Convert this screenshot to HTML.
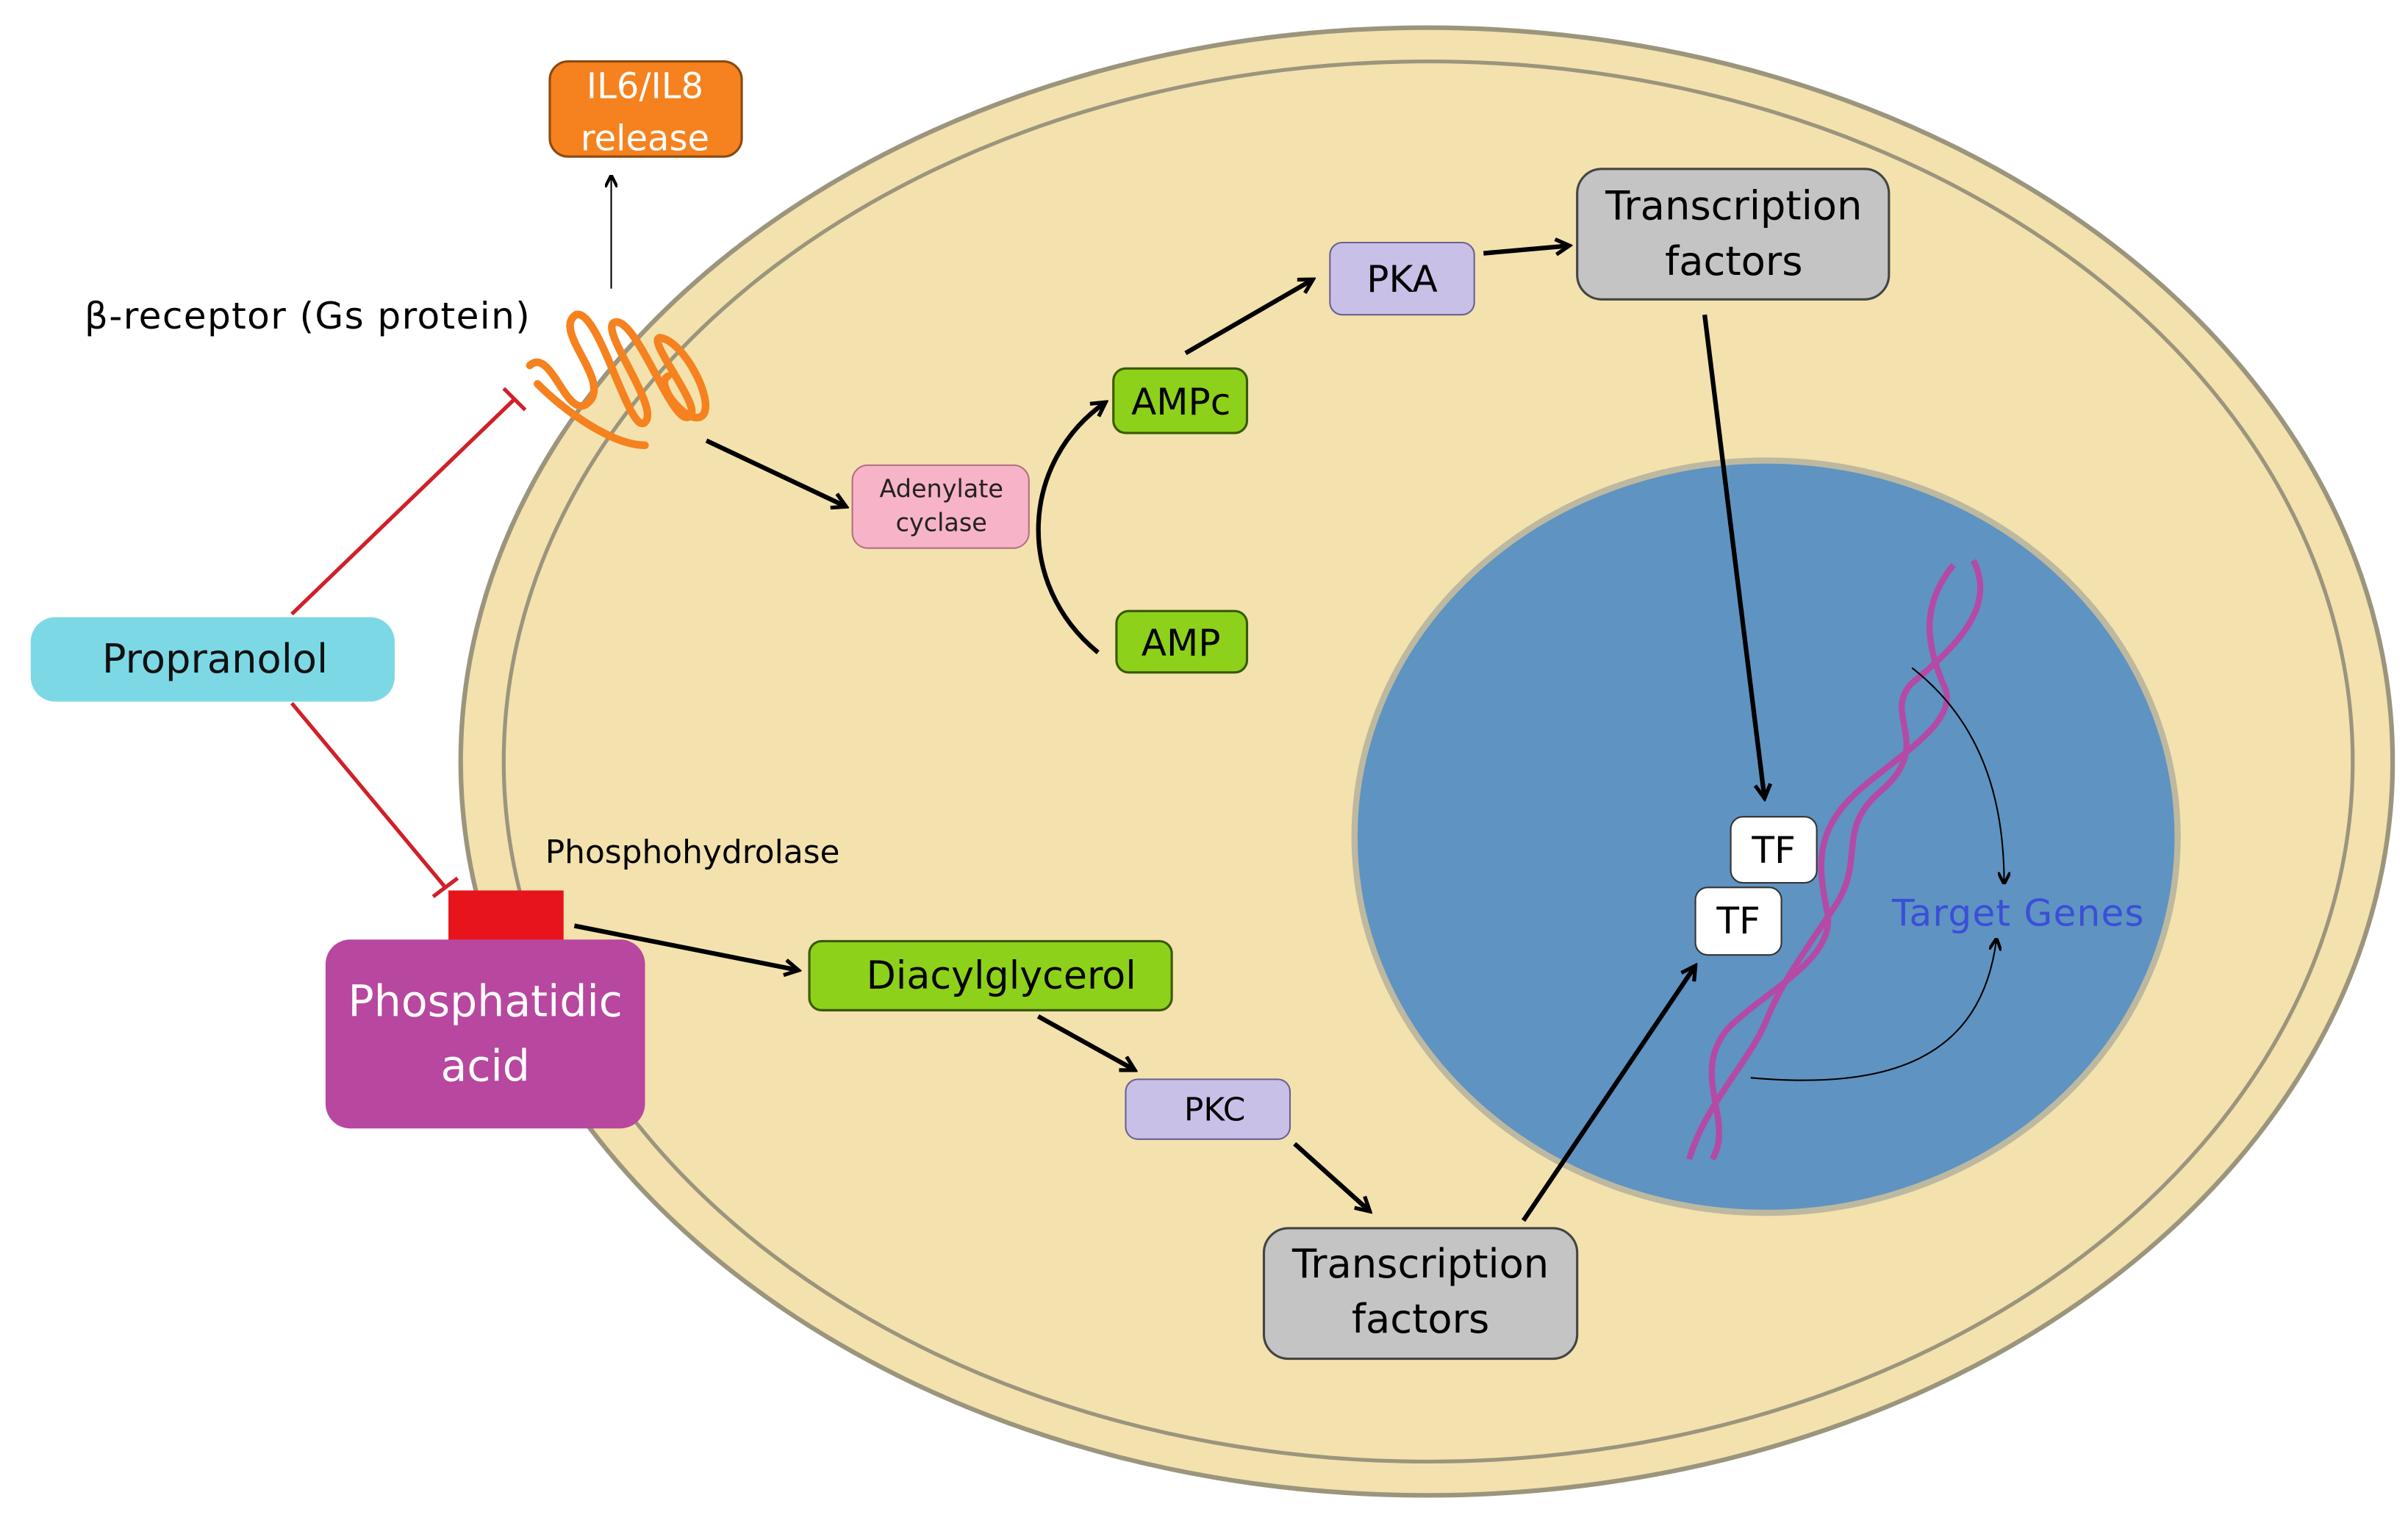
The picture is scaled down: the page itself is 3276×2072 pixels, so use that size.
<!DOCTYPE html>
<html><head><meta charset="utf-8">
<style>
html,body{margin:0;padding:0;background:#fff;}
svg{display:block;}
text{font-family:"DejaVu Sans","Liberation Sans",sans-serif;}
</style></head>
<body>
<svg width="3276" height="2072" viewBox="0 0 1568 992" preserveAspectRatio="none" xmlns="http://www.w3.org/2000/svg">
<defs>
<marker id="ah" markerWidth="8" markerHeight="8" refX="7" refY="4" orient="auto" markerUnits="userSpaceOnUse">
<path d="M0,0 L8,4 L0,8" fill="none" stroke="#000" stroke-width="2"/></marker>
<marker id="ah2" markerWidth="12" markerHeight="12" refX="10" refY="6" orient="auto" markerUnits="userSpaceOnUse">
<path d="M1,1 L10,6 L1,11" fill="none" stroke="#000" stroke-width="2.5"/></marker>
</defs>
<rect width="1568" height="992" fill="#fff"/>
<ellipse cx="929" cy="496" rx="629" ry="478" fill="#f3e2ae" stroke="#9b957d" stroke-width="3"/>
<ellipse cx="930" cy="496" rx="602" ry="456" fill="none" stroke="#9b957d" stroke-width="2.5"/>
<ellipse cx="1150" cy="545" rx="268" ry="245" fill="#5f93c1" stroke="#bdb9a0" stroke-width="4"/>
<rect x="358" y="40" width="125" height="62" rx="12" fill="#f5821f" stroke="#8a4a10" stroke-width="1.5"/>
<text x="420" y="64" font-size="23" fill="#fff" text-anchor="middle">IL6/IL8</text>
<text x="420" y="98" font-size="23" fill="#fff" text-anchor="middle">release</text>
<line x1="398" y1="188" x2="398" y2="115" stroke="#000" stroke-width="1" marker-end="url(#ah)"/>
<text x="55" y="214" font-size="24" fill="#000" textLength="290">β-receptor (Gs protein)</text>
<g fill="none" stroke="#f5821f" stroke-width="5" stroke-linecap="round">
<path d="M345,238 C360,225 370,280 385,260 C395,245 360,215 375,205 C390,200 410,285 420,275 C430,265 390,215 400,210 C415,205 440,285 450,270 C455,262 420,220 430,220 C445,222 465,260 458,270 C450,280 425,250 435,245"/>
<path d="M350,250 C370,270 400,290 420,290"/>
</g>
<rect x="20" y="402" width="237" height="55" rx="16" fill="#7dd8e6"/>
<text x="140" y="438" font-size="26" fill="#111" text-anchor="middle">Propranolol</text>
<g stroke="#d0202a" stroke-width="2.5">
<line x1="190" y1="400" x2="335" y2="260"/><line x1="328" y1="253" x2="342" y2="267"/>
<line x1="190" y1="458" x2="290" y2="578"/><line x1="282" y1="584" x2="298" y2="572"/>
</g>
<rect x="292" y="580" width="75" height="34" fill="#e8141c"/>
<rect x="212" y="612" width="208" height="123" rx="16" fill="#b8479f"/>
<text x="316" y="662" font-size="28" fill="#fff" text-anchor="middle">Phosphatidic</text>
<text x="316" y="704" font-size="28" fill="#fff" text-anchor="middle">acid</text>
<text x="355" y="562" font-size="21" fill="#000">Phosphohydrolase</text>
<line x1="460" y1="287" x2="551" y2="330" stroke="#000" stroke-width="3" marker-end="url(#ah2)"/>
<rect x="555" y="303" width="115" height="54" rx="10" fill="#f7b3c8" stroke="#b07080" stroke-width="1"/>
<text x="613" y="324" font-size="16" text-anchor="middle" fill="#222">Adenylate</text>
<text x="613" y="346" font-size="16" text-anchor="middle" fill="#222">cyclase</text>
<rect x="725" y="240" width="87" height="42" rx="8" fill="#8ed11a" stroke="#3a5a00" stroke-width="1.5"/>
<text x="769" y="270" font-size="24" text-anchor="middle">AMPc</text>
<rect x="727" y="398" width="85" height="40" rx="8" fill="#8ed11a" stroke="#3a5a00" stroke-width="1.5"/>
<text x="769" y="427" font-size="24" text-anchor="middle">AMP</text>
<path d="M715,425 C660,380 665,300 720,262" fill="none" stroke="#000" stroke-width="3" marker-end="url(#ah2)"/>
<line x1="772" y1="230" x2="855" y2="182" stroke="#000" stroke-width="3" marker-end="url(#ah2)"/>
<rect x="866" y="158" width="94" height="47" rx="8" fill="#c9c0e8" stroke="#6a6090" stroke-width="1"/>
<text x="913" y="190" font-size="24" text-anchor="middle">PKA</text>
<line x1="966" y1="165" x2="1022" y2="160" stroke="#000" stroke-width="3" marker-end="url(#ah2)"/>
<rect x="1027" y="110" width="203" height="85" rx="16" fill="#c4c4c4" stroke="#444" stroke-width="1.5"/>
<text x="1129" y="143" font-size="26" text-anchor="middle">Transcription</text>
<text x="1129" y="179" font-size="26" text-anchor="middle">factors</text>
<line x1="1110" y1="205" x2="1149" y2="520" stroke="#000" stroke-width="3" marker-end="url(#ah2)"/>
<g fill="none" stroke="#b44aa6" stroke-width="4">
<path d="M1285,365 C1300,395 1275,420 1245,445 C1225,465 1260,485 1225,515 C1195,540 1215,560 1195,590 C1175,620 1160,640 1150,665 C1140,690 1110,720 1100,755"/>
<path d="M1272,368 C1250,395 1255,420 1265,445 C1280,470 1230,495 1205,520 C1180,545 1185,570 1190,595 C1195,625 1150,645 1125,670 C1100,700 1130,730 1115,755"/>
</g>
<rect x="1127" y="532" width="56" height="43" rx="8" fill="#fff" stroke="#333" stroke-width="1"/>
<text x="1155" y="562" font-size="24" text-anchor="middle">TF</text>
<rect x="1104" y="578" width="56" height="44" rx="8" fill="#fff" stroke="#333" stroke-width="1"/>
<text x="1132" y="608" font-size="24" text-anchor="middle">TF</text>
<text x="1232" y="603" font-size="24" fill="#3a4fd8" textLength="164">Target Genes</text>
<path d="M1245,435 C1290,470 1305,520 1305,575" fill="none" stroke="#000" stroke-width="1" marker-end="url(#ah)"/>
<path d="M1140,702 C1230,710 1290,690 1300,612" fill="none" stroke="#000" stroke-width="1" marker-end="url(#ah)"/>
<line x1="374" y1="603" x2="520" y2="632" stroke="#000" stroke-width="3" marker-end="url(#ah2)"/>
<rect x="527" y="613" width="236" height="45" rx="8" fill="#8ed11a" stroke="#3a5a00" stroke-width="1.5"/>
<text x="652" y="644" font-size="25" text-anchor="middle">Diacylglycerol</text>
<line x1="676" y1="662" x2="739" y2="697" stroke="#000" stroke-width="3" marker-end="url(#ah2)"/>
<rect x="733" y="703" width="107" height="39" rx="8" fill="#c9c0e8" stroke="#6a6090" stroke-width="1"/>
<text x="791" y="730" font-size="21" text-anchor="middle">PKC</text>
<line x1="843" y1="745" x2="892" y2="789" stroke="#000" stroke-width="3" marker-end="url(#ah2)"/>
<rect x="823" y="800" width="204" height="85" rx="16" fill="#c4c4c4" stroke="#444" stroke-width="1.5"/>
<text x="925" y="832" font-size="26" text-anchor="middle">Transcription</text>
<text x="925" y="868" font-size="26" text-anchor="middle">factors</text>
<line x1="992" y1="795" x2="1104" y2="629" stroke="#000" stroke-width="3" marker-end="url(#ah2)"/>
</svg>
</body></html>
